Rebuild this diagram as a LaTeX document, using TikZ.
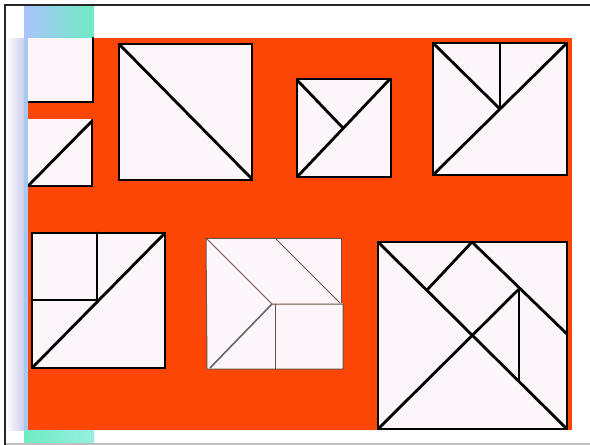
\documentclass[tikz,border=0pt]{standalone}
\begin{document}
\begin{tikzpicture}[x=1pt,y=-1pt]
\definecolor{org}{RGB}{252,70,5}
\definecolor{paper}{RGB}{252,246,250}
\definecolor{stripA}{RGB}{170,195,250}
\definecolor{stripB}{RGB}{110,235,195}
\definecolor{stripC}{RGB}{150,240,225}
\definecolor{lav}{RGB}{205,205,235}
\definecolor{blueedge}{RGB}{165,200,245}
\tikzset{
  paperfill/.style={fill=paper},
  bold/.style={draw=black,line width=2.8pt,line cap=round,line join=miter},
  fine/.style={draw={rgb,255:red,110;green,80;blue,70},line width=1pt,line cap=round},
  frameline/.style={draw=black!85,line width=2pt}
}
\useasboundingbox (0,0) rectangle (590,445);
\fill[white] (0,0) rectangle (590,445);
% background paper
\fill[org] (28,38) rectangle (572,430);
\shade[left color=white, right color=lav] (6,38) rectangle (24,430);
\fill[blueedge] (24,38) rectangle (28,430);
\shade[left color=stripA, right color=stripB] (24,5) rectangle (94,38);
\shade[left color=stripB, right color=stripC] (24,430) rectangle (94,445);
% frame
\draw[frameline] (4,5) -- (590,5);
\draw[frameline] (5,4) -- (5,445);
\draw[draw=black!25,line width=1.5pt] (6,444) -- (590,444);
% A: small square
\fill[paperfill] (28,38) rectangle (93,102);
\draw[bold] (29,102) -- (93,102) -- (93,38);
% B: small square with diagonal
\fill[paperfill] (28,119) rectangle (92,186);
\draw[bold] (29,186) -- (92,186) -- (92,120);
\draw[bold] (29,185) -- (92,121);
% C: big square with diagonal
\fill[paperfill] (119,44) rectangle (252,180);
\draw[bold] (119,44) rectangle (252,180);
\draw[bold] (120,45) -- (252,179);
% D
\fill[paperfill] (297,79) rectangle (391,177);
\draw[bold] (297,79) rectangle (391,177);
\draw[bold] (298,176) -- (389,80);
\draw[bold] (298,81) -- (343,128);
% E
\fill[paperfill] (433,43) rectangle (567,175);
\draw[bold] (433,43) rectangle (567,175);
\draw[bold] (434,174) -- (566,44);
\draw[bold] (434,44) -- (500,109);
\draw[bold] (500,43) -- (500,109);
% F
\fill[paperfill] (32,233) rectangle (165,368);
\draw[bold] (32,233) rectangle (165,368);
\draw[bold] (33,367) -- (164,234);
\draw[bold] (97,233) -- (97,300) -- (32,300);
% G
\fill[paperfill] (206,238) rectangle (341,304);
\fill[paperfill] (207,303) rectangle (343,369);
\draw[fine] (206,238) -- (341,238) -- (341,303);
\draw[fine] (206,238) -- (207,369) -- (343,369) -- (343,304) -- (272,304);
\draw[fine] (206,238) -- (272,304);
\draw[draw=black!60,line width=1.6pt] (272,304) -- (210,368);
\draw[fine] (275,304) -- (275,369);
\draw[fine] (275,238) -- (340,303);
% H: tangram square
\fill[paperfill] (378,242) rectangle (567,429);
\draw[bold] (378,242) rectangle (567,429);
\draw[bold] (378,242) -- (567,429);
\draw[bold] (378,429) -- (519,289);
\draw[bold] (472,242) -- (427,290);
\draw[bold] (472,242) -- (567,334);
\draw[bold] (519,289) -- (519,381);
\end{tikzpicture}
\end{document}
